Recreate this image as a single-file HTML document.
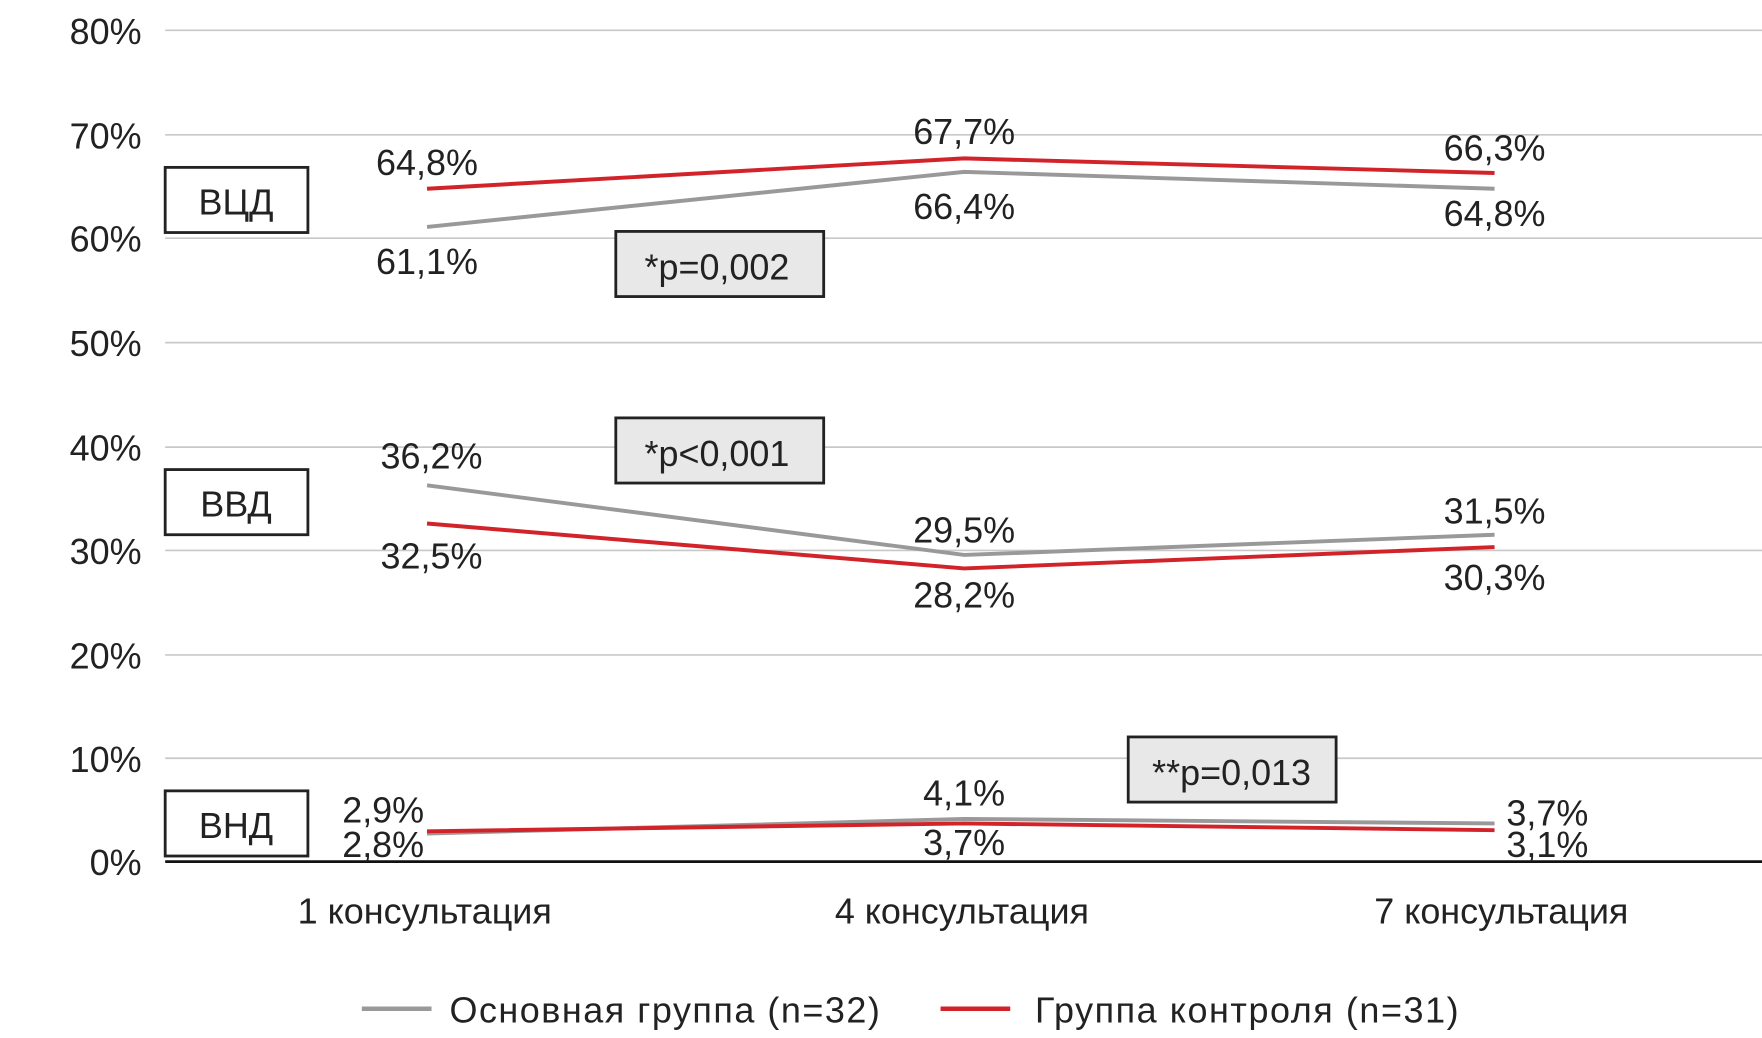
<!DOCTYPE html>
<html><head><meta charset="utf-8"><style>html,body{margin:0;padding:0;background:#fff}svg{display:block}</style></head>
<body>
<svg width="1762" height="1038" viewBox="0 0 1568 924" preserveAspectRatio="none" xmlns="http://www.w3.org/2000/svg" font-family="Liberation Sans, sans-serif" font-size="32" fill="#222">
<g stroke="#c8c8c8" stroke-width="1.5">
<line x1="147" x2="1568" y1="27" y2="27"/><line x1="147" x2="1568" y1="120" y2="120"/><line x1="147" x2="1568" y1="212" y2="212"/><line x1="147" x2="1568" y1="305" y2="305"/><line x1="147" x2="1568" y1="398" y2="398"/><line x1="147" x2="1568" y1="490" y2="490"/><line x1="147" x2="1568" y1="583" y2="583"/><line x1="147" x2="1568" y1="675" y2="675"/>
</g>
<line x1="147" x2="1568" y1="767" y2="767" stroke="#111" stroke-width="2.5"/>
<g text-anchor="end">
<text x="126" y="39">80%</text><text x="126" y="132">70%</text><text x="126" y="224">60%</text><text x="126" y="317">50%</text><text x="126" y="410">40%</text><text x="126" y="502">30%</text><text x="126" y="595">20%</text><text x="126" y="687">10%</text><text x="126" y="779">0%</text>
</g>
<g fill="none" stroke-width="3.5">
<polyline stroke="#999" points="380,202 858,153 1330,168"/>
<polyline stroke="#d2232a" points="380,168 858,141 1330,154"/>
<polyline stroke="#999" points="380,432 858,494 1330,476"/>
<polyline stroke="#d2232a" points="380,466 858,506 1330,487"/>
<polyline stroke="#999" points="380,742 858,729 1330,733"/>
<polyline stroke="#d2232a" points="380,740 858,733 1330,739"/>
</g>
<g text-anchor="middle">
<text x="380" y="156">64,8%</text><text x="380" y="244">61,1%</text>
<text x="858" y="128">67,7%</text><text x="858" y="195">66,4%</text>
<text x="1330" y="143">66,3%</text><text x="1330" y="201">64,8%</text>
<text x="384" y="417">36,2%</text><text x="384" y="506">32,5%</text>
<text x="858" y="483">29,5%</text><text x="858" y="541">28,2%</text>
<text x="1330" y="466">31,5%</text><text x="1330" y="525">30,3%</text>
<text x="341" y="732">2,9%</text><text x="341" y="763">2,8%</text>
<text x="858" y="717">4,1%</text><text x="858" y="761">3,7%</text>
<text x="1377" y="735">3,7%</text><text x="1377" y="763">3,1%</text>
</g>
<g stroke="#222" stroke-width="2.5" fill="#fff">
<rect x="147" y="149" width="127" height="58"/><rect x="147" y="418" width="127" height="58"/><rect x="147" y="704" width="127" height="58"/>
</g>
<g stroke="#222" stroke-width="2.5" fill="#e8e8e8">
<rect x="548" y="206" width="185" height="58"/><rect x="548" y="372" width="185" height="58"/><rect x="1004" y="656" width="185" height="58"/>
</g>
<g text-anchor="middle">
<text x="210" y="191">ВЦД</text><text x="210" y="460">ВВД</text><text x="210" y="746">ВНД</text>
<text x="638" y="249">*p=0,002</text><text x="638" y="415">*p&lt;0,001</text><text x="1096" y="699">**p=0,013</text>
<text x="378" y="822">1 консультация</text><text x="856" y="822">4 консультация</text><text x="1336" y="822">7 консультация</text>
</g>
<line x1="322" x2="384" y1="898" y2="898" stroke="#999" stroke-width="4"/>
<text x="400" y="910" textLength="383">Основная группа (n=32)</text>
<line x1="837" x2="899" y1="898" y2="898" stroke="#d2232a" stroke-width="4"/>
<text x="921" y="910" textLength="377">Группа контроля (n=31)</text>
</svg>
</body></html>
